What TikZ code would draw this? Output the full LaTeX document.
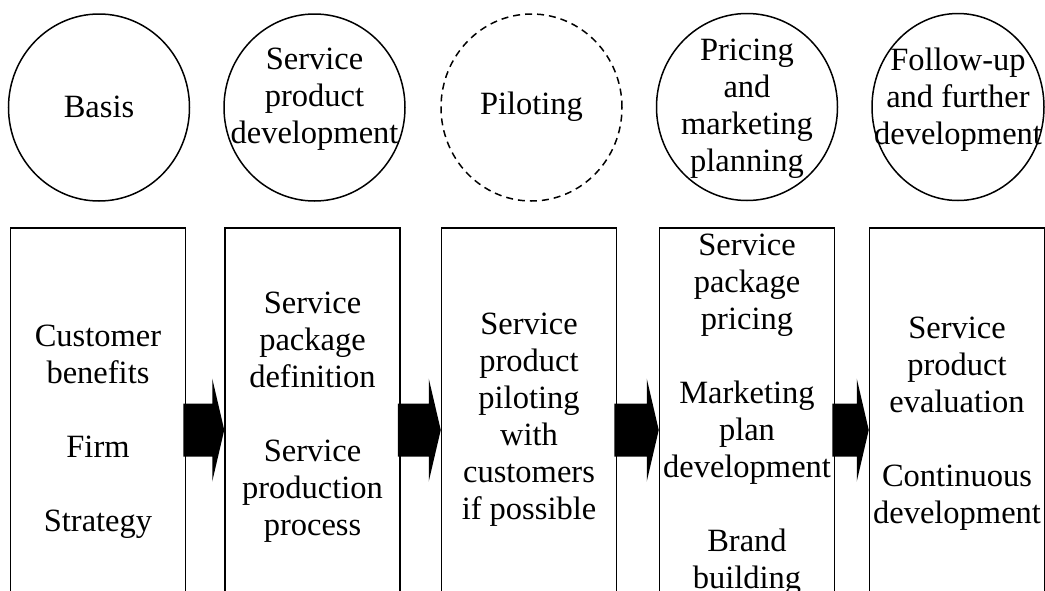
\documentclass[tikz,border=0pt]{standalone}
\usepackage{fontspec}
\setmainfont{Liberation Serif}
\usetikzlibrary{shapes.geometric,calc}

\begin{document}
\begin{tikzpicture}[x=1pt,y=-1pt,line width=1.5pt,
    every node/.style={font=\fontsize{32.5}{37}\selectfont,align=center,inner sep=0pt},
    stage/.style={draw,ellipse,minimum width=181pt,minimum height=187pt},
    box/.style={draw,rectangle,minimum width=175pt}]
  \useasboundingbox (0,0) rectangle (1045,590);
  \clip (0,0) rectangle (1045,590);
  \node[stage] (c1) at (99,107.5) {};
  \node[stage] (c2) at (314.5,107.5) {};
  \node[stage,dash pattern=on 7pt off 5pt] (c3) at (531.5,107.5) {};
  \node[stage] (c4) at (747,107) {};
  \node[stage,minimum width=172pt] (c5) at (958,107) {};
  \node (l1) at ([yshift=1pt]c1.center) {Basis};
  \node (l2) at ([yshift=8pt]c2.center) {Service\\product\\development};
  \node (l3) at ([yshift=1pt]c3.center) {Piloting};
  \node (l4) at ([yshift=-2pt]c4.center) {Pricing\\and\\marketing\\planning};
  \node (l5) at ([yshift=7pt]c5.center) {Follow-up\\and further\\development};
  \node[box,minimum height=408pt] (b1) at (98,432)
    {Customer\\benefits\\[37pt]Firm\\[37pt]Strategy};
  \node[box,minimum height=378pt] (b2) at (312.5,417)
    {Service\\package\\definition\\[37pt]Service\\production\\process};
  \node[box,minimum height=384pt] (b3) at (529,420)
    {Service\\product\\piloting\\with\\customers\\if possible};
  \node[box,minimum height=374pt] (b4) at (747,415)
    {Service\\package\\pricing\\[37pt]Marketing\\plan\\development\\[37pt]Brand\\building};
  \node[box,minimum height=392pt] (b5) at (957,424)
    {Service\\product\\evaluation\\[37pt]Continuous\\development};
  \coordinate (row) at (0,430);
  \foreach \p/\q in {b1/b2,b2/b3,b3/b4,b4/b5}
    \fill (\q.west|-row) -- ++(-12,-51.5) -- ++(0,25)
      -- ($(\p.east|-row)+(-3,-26.5)$) -- ++(0,53)
      -- ($(\q.west|-row)+(-12,26.5)$) -- ++(0,25) -- cycle;
\end{tikzpicture}
\end{document}
